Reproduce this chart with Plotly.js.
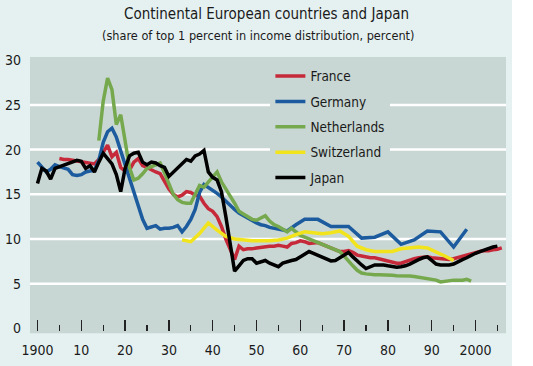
<!DOCTYPE html>
<html>
<head>
<meta charset="utf-8">
<script src="https://cdn.plot.ly/plotly-3.0.1.min.js"></script>
<style>
  html, body { margin: 0; padding: 0; background: #ffffff; }
  #chart { width: 512px; height: 366px; }
</style>
</head>
<body>
<div id="chart"></div>
<script>
// ---------- DATA ----------
const franceYears = [1905,1906,1907,1908,1909,1910,1911,1912,1913,1914,1915,1916,1917,1918,1919,1920,1921,1922,1923,1924,1925,1926,1927,1928,1929,1930,1931,1932,1933,1934,1935,1936,1937,1938,1939,1940,1941,1942,1943,1944,1945,1946,1947,1948,1949,1950,1951,1952,1953,1954,1955,1956,1957,1958,1959,1960,1961,1962,1963,1964,1965,1966,1967,1968,1969,1970,1971,1972,1973,1974,1975,1976,1977,1978,1979,1980,1981,1982,1983,1984,1985,1986,1987,1988,1989,1990,1991,1992,1993,1994,1995,1996,1997,1998,1999,2000,2001,2002,2003,2004,2005,2006];
const franceValues = [19.0,18.9,18.9,18.8,18.7,18.6,18.6,18.5,18.4,18.9,19.8,20.5,19.2,19.7,18.0,17.6,17.7,18.6,19.0,18.2,18.0,17.7,17.5,17.3,16.4,15.6,15.0,14.7,14.9,15.3,15.2,14.9,14.8,14.0,13.4,13.1,12.5,11.4,10.0,8.8,7.7,9.2,8.8,8.9,8.9,9.0,9.1,9.1,9.2,9.2,9.3,9.2,9.1,9.5,9.6,9.8,9.7,9.5,9.6,9.6,9.4,9.2,9.0,8.8,8.6,8.6,8.7,8.5,8.2,8.1,7.95,7.9,7.9,7.8,7.7,7.6,7.4,7.3,7.3,7.5,7.6,7.8,7.9,8.0,8.0,7.9,7.85,7.8,7.7,7.7,7.8,7.95,8.1,8.2,8.4,8.5,8.6,8.7,8.7,8.8,8.85,9.0];

const germanyYears = [1900,1901,1902,1903,1904,1905,1906,1907,1908,1909,1910,1911,1912,1913,1914,1915,1916,1917,1918,1919,1920,1921,1922,1923,1924,1925,1926,1927,1928,1929,1930,1931,1932,1933,1934,1935,1936,1937,1938,1939,1940,1941,1942,1943,1944,1945,1946,1947,1948,1949,1950,1951,1952,1953,1954,1955,1956,1957,1959,1961,1964,1967,1971,1974,1977,1980,1983,1986,1989,1992,1995,1998];
const germanyValues = [18.6,18.1,17.5,17.8,18.3,18.1,17.9,17.8,17.2,17.1,17.2,17.5,17.6,17.7,18.8,20.8,22.0,22.4,21.4,19.9,18.3,16.7,15.1,13.6,12.2,11.2,11.4,11.5,11.1,11.2,11.2,11.3,11.5,10.8,11.4,12.2,13.3,15.2,16.1,15.8,15.4,15.1,14.7,14.2,13.8,13.3,12.9,12.6,12.3,12.0,11.8,11.6,11.5,11.3,11.2,11.1,11.0,10.9,11.6,12.2,12.2,11.4,11.4,10.1,10.2,10.8,9.4,9.9,10.9,10.8,9.1,11.1];

const netherlandsYears = [1914,1915,1916,1917,1918,1919,1920,1921,1922,1923,1924,1925,1926,1927,1928,1929,1930,1931,1932,1933,1934,1935,1936,1937,1938,1939,1940,1941,1942,1943,1944,1945,1946,1947,1948,1949,1950,1951,1952,1953,1954,1955,1956,1957,1958,1959,1960,1961,1962,1963,1964,1965,1966,1967,1968,1969,1970,1971,1972,1973,1974,1975,1976,1977,1978,1979,1980,1981,1982,1983,1984,1985,1986,1987,1988,1989,1990,1991,1992,1993,1994,1995,1996,1997,1998,1999];
const netherlandsValues = [21.0,25.4,28.0,26.7,22.8,23.9,21.0,18.0,16.6,16.8,17.3,17.9,18.1,18.3,18.5,17.4,16.3,15.0,14.4,14.1,14.0,14.0,15.0,16.0,15.8,16.4,17.0,17.5,16.4,15.5,14.8,14.0,13.1,12.8,12.5,12.2,12.1,12.4,12.6,12.0,11.6,11.4,11.1,10.8,11.2,10.8,10.4,10.2,10.0,9.8,9.7,9.5,9.3,9.1,8.9,8.6,8.1,7.5,7.0,6.5,6.2,6.1,6.0,6.0,6.0,6.0,6.0,5.95,5.9,5.9,5.85,5.85,5.8,5.7,5.6,5.5,5.5,5.4,5.2,5.3,5.4,5.4,5.4,5.4,5.5,5.3];

const switzerlandYears = [1933,1935,1937,1939,1941,1943,1945,1947,1949,1951,1953,1955,1957,1959,1961,1963,1965,1967,1969,1971,1973,1975,1977,1979,1981,1983,1985,1987,1989,1991,1993,1995];
const switzerlandValues = [9.9,9.7,10.6,11.8,11.0,10.3,10.0,9.9,9.8,9.8,9.8,9.9,10.1,10.5,10.8,10.7,10.6,10.7,10.9,10.3,9.2,8.8,8.6,8.6,8.6,8.9,9.0,9.1,9.0,8.6,8.1,7.6];

const japanYears = [1900,1901,1902,1903,1904,1905,1906,1907,1908,1909,1910,1911,1912,1913,1914,1915,1916,1917,1918,1919,1920,1921,1922,1923,1924,1925,1926,1927,1928,1929,1930,1931,1932,1933,1934,1935,1936,1937,1938,1939,1940,1941,1942,1943,1944,1945,1946,1947,1948,1949,1950,1951,1952,1953,1954,1955,1956,1957,1958,1959,1960,1961,1962,1963,1964,1965,1966,1967,1968,1969,1970,1971,1972,1973,1974,1975,1976,1977,1978,1979,1980,1981,1982,1983,1984,1985,1986,1987,1988,1989,1990,1991,1992,1993,1994,1995,1996,1997,1998,1999,2000,2001,2002,2003,2004,2005];
const japanValues = [16.2,17.9,17.6,16.7,17.9,18.1,18.3,18.5,18.7,18.8,18.7,17.9,18.2,17.5,18.6,19.6,19.0,18.4,17.2,15.3,17.9,19.3,19.6,19.7,18.6,18.3,18.6,18.5,18.2,18.0,17.0,17.5,17.9,18.4,18.9,18.7,19.3,19.5,19.9,17.5,16.9,16.6,15.3,12.5,9.5,6.4,7.0,7.6,7.8,7.8,7.3,7.5,7.6,7.3,7.1,6.9,7.3,7.5,7.6,7.7,8.0,8.3,8.6,8.4,8.2,7.9,7.7,7.55,7.6,7.9,8.3,8.5,8.0,7.5,7.1,6.7,6.9,7.1,7.1,7.1,7.0,6.9,6.85,6.9,7.0,7.2,7.5,7.7,7.9,8.0,7.6,7.2,7.1,7.1,7.1,7.2,7.5,7.7,7.9,8.2,8.4,8.6,8.8,8.9,9.1,9.2];

const seriesNames = ["France","Germany","Netherlands","Switzerland","Japan"];
const seriesColors = ["#c62a3a","#1b5b9e","#76a94e","#f2e41c","#000000"];

const xTickVals = [1900,1910,1920,1930,1940,1950,1960,1970,1980,1990,2000];
const xTickText = ["1900","10","20","30","40","50","60","70","80","90","2000"];
const xMinorVals = [1905,1915,1925,1935,1945,1955,1965,1975,1985,1995,2005];
const yTickVals = [0,5,10,15,20,25,30];
const yGridVals = [5,10,15,20,25];

const titleText = "Continental European countries and Japan";
const subtitleText = "(share of top 1 percent in income distribution, percent)";

// ---------- CHART ----------
const FONT = '"DejaVu Sans Condensed", "Liberation Sans Narrow", sans-serif';
const PLOT_BG = "#c9d7d4";
const PAPER_BG = "#e5f1f1";

const xs = [franceYears, germanyYears, netherlandsYears, switzerlandYears, japanYears];
const ys = [franceValues, germanyValues, netherlandsValues, switzerlandValues, japanValues];

const traces = seriesNames.map((name, i) => ({
  type: "scatter",
  mode: "lines",
  name: name,
  legendgroup: name,
  x: xs[i],
  y: ys[i],
  line: { color: seriesColors[i], width: 3.5, shape: "linear" },
  hoverinfo: "skip"
}));

const shapes = yGridVals.map(v => ({
  type: "line", xref: "paper", yref: "y", x0: 0, x1: 1, y0: v, y1: v,
  line: { color: "#ffffff", width: 2.5 }, layer: "below"
}));
shapes.push({
  type: "rect", xref: "paper", yref: "paper", x0: 0, x1: 1, y0: -0.008, y1: 0,
  fillcolor: PLOT_BG, line: { width: 0 }, layer: "below"
});

const layout = {
  width: 512,
  height: 366,
  margin: { l: 30, r: 6, t: 57, b: 35 },
  paper_bgcolor: PAPER_BG,
  plot_bgcolor: PLOT_BG,
  font: { family: FONT, size: 14, color: "#1a1a1a" },
  showlegend: true,
  legend: {
    x: 0.505, xanchor: "left",
    y: 0.986, yanchor: "top",
    bgcolor: PLOT_BG,
    borderwidth: 0,
    font: { family: FONT, size: 13.5, color: "#1a1a1a" },
    traceorder: "grouped",
    tracegroupgap: 4.8,
    itemwidth: 30
  },
  xaxis: {
    range: [1898.29, 2006.96],
    tickmode: "array",
    tickvals: xTickVals,
    ticktext: xTickText,
    ticks: "inside",
    ticklen: 11,
    tickwidth: 1.3,
    tickcolor: "#222222",
    minor: { tickmode: "array", tickvals: xMinorVals, ticks: "inside", ticklen: 6, tickwidth: 1.3, tickcolor: "#222222", showgrid: false },
    showgrid: false,
    zeroline: false,
    showline: false,
    ticklabelstandoff: 9,
    tickfont: { family: FONT, size: 14, color: "#1a1a1a" }
  },
  yaxis: {
    range: [-0.29, 30.36],
    tickmode: "array",
    tickvals: yTickVals,
    ticks: "",
    showgrid: false,
    zeroline: false,
    showline: false,
    ticklabelstandoff: 8,
    tickfont: { family: FONT, size: 14, color: "#1a1a1a" }
  },
  shapes: shapes,
  annotations: [
    { text: titleText, xref: "paper", yref: "paper", x: 0.496, y: 1.157, xanchor: "center", yanchor: "middle",
      showarrow: false, font: { family: FONT, size: 15, color: "#1a1a1a" } },
    { text: subtitleText, xref: "paper", yref: "paper", x: 0.48, y: 1.08, xanchor: "center", yanchor: "middle",
      showarrow: false, font: { family: FONT, size: 12.6, color: "#1a1a1a" } }
  ]
};

Plotly.newPlot("chart", traces, layout, { displayModeBar: false, staticPlot: true });
</script>
</body>
</html>
